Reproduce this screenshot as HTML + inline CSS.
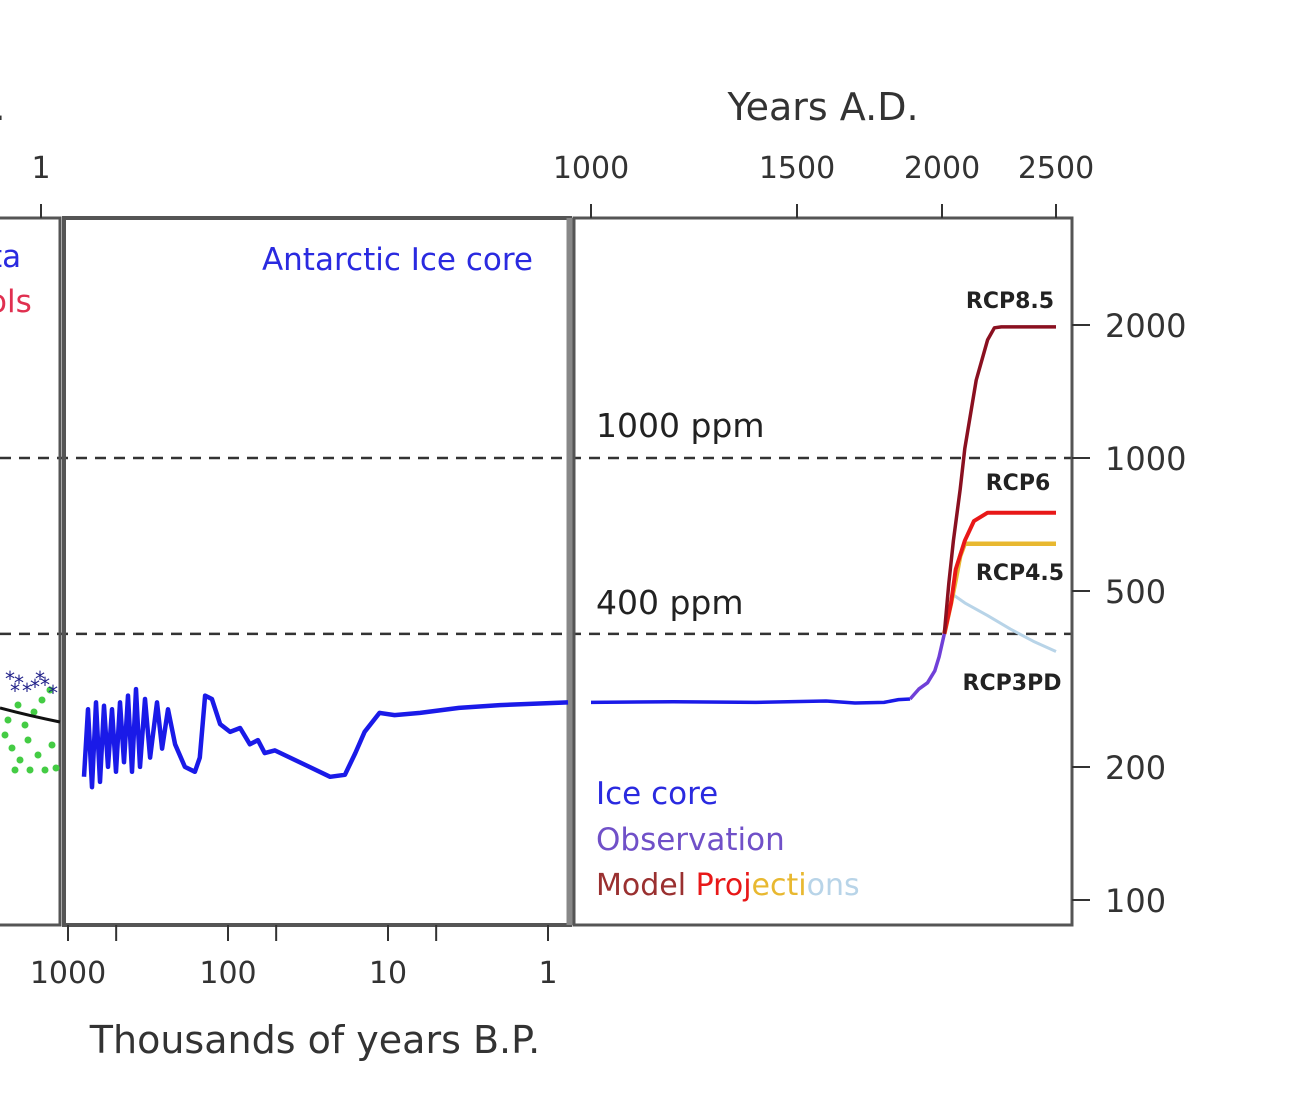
<!DOCTYPE html>
<html><head><meta charset="utf-8"><style>
body{margin:0;background:#fff}
svg text{font-family:"DejaVu Sans","Liberation Sans",sans-serif}
</style></head><body>
<svg id="c" width="1290" height="1100" viewBox="0 0 1290 1100" xmlns="http://www.w3.org/2000/svg">
<rect width="1290" height="1100" fill="#fff"/>
<g id="g"></g>
</svg>
<script>
// Middle panel: Antarctic ice core (kyr BP, ppm)
const coreKyr=[794,750,708,668,631,596,562,531,501,473,447,422,398,376,355,330,307,278,258,237,214,186,161,150,139,126,112,97,84,73,65,59,51,41,31,23,18.6,16,14,11.3,9.1,6.3,3.6,2,0.75];
const corePpm=[190,270,180,280,185,275,200,270,195,280,205,290,195,300,200,285,210,280,220,270,225,200,195,210,290,285,250,240,245,225,230,215,218,210,200,190,192,215,240,265,262,265,272,276,280];
// Right panel: historical (year AD, ppm)
const histYear=[1000,1200,1400,1600,1700,1800,1850,1890,1920,1950,1975,1990,2010];
const histPpm=[280,281,280,282,279,280,284,285,300,310,330,355,400];
// Projections
const rcp85Year=[2010,2030,2050,2080,2100,2150,2200,2230,2260,2500];
const rcp85Ppm=[400,520,650,850,1050,1500,1850,1970,1980,1980];
const rcp6Year=[2010,2040,2060,2100,2140,2200,2500];
const rcp6Ppm=[400,470,560,650,720,752,752];
const rcp45Year=[2010,2040,2060,2080,2100,2500];
const rcp45Ppm=[400,470,530,600,640,640];
const rcp3Year=[2010,2030,2050,2100,2200,2300,2400,2500];
const rcp3Ppm=[400,450,490,470,440,410,385,365];
const yTickVals=[2000,1000,500,200,100];
const adTickVals=[1000,1500,2000,2500];
const adTickPx=[591,797,942,1056];
const bpTickVals=[1000,100,10,1];

const NS="http://www.w3.org/2000/svg";
const g=document.getElementById('g');
function el(t,a,txt){const e=document.createElementNS(NS,t);for(const k in a)e.setAttribute(k,a[k]);if(txt!==undefined)e.textContent=txt;g.appendChild(e);return e;}
function yS(v){return 900-442*Math.log10(v/100);}
function xBP(k){return 68+160*(3-Math.log10(k));}
function xAD(y){for(let i=0;i<adTickVals.length-1;i++){if(y<=adTickVals[i+1]){const t=(y-adTickVals[i])/(adTickVals[i+1]-adTickVals[i]);return adTickPx[i]+t*(adTickPx[i+1]-adTickPx[i]);}}return adTickPx[adTickPx.length-1];}
function path(xs,ys,fx,col,w,name){let d='';xs.forEach((x,i)=>{d+=(i?'L':'M')+fx(x).toFixed(1)+','+yS(ys[i]).toFixed(1);});
const p=el('path',{d:d,fill:'none',stroke:col,'stroke-width':w,'stroke-linejoin':'round'});

return p;}

[1000,400].forEach(v=>{const l=el('line',{x1:0,x2:1072,y1:yS(v),y2:yS(v),stroke:'#333','stroke-width':2.5,'stroke-dasharray':'11,8'});

});

// left partial panel
let lp=el('path',{d:'M0,218H60V925H0',fill:'none',stroke:'#555','stroke-width':3});

el('line',{x1:41,x2:41,y1:204,y2:218,stroke:'#333','stroke-width':2});
let t1=el('text',{x:41,y:178,'font-size':30,fill:'#333','text-anchor':'middle'},'1');

el('text',{x:-6,y:120,'font-size':36,fill:'#333'},'.');
let ta=el('text',{x:-10,y:267,'font-size':31,fill:'#2a2ae0'},'ta');
let to=el('text',{x:-12,y:312,'font-size':31,fill:'#e03050'},'ols');
[[5,735],[12,748],[20,760],[28,740],[38,755],[45,770],[52,745],[56,768],[15,770],[30,770],[42,700],[50,690],[8,720],[25,725],[34,712],[18,705]].forEach(p=>el('circle',{cx:p[0],cy:p[1],r:3.5,fill:'#4c4'}));
[[5,678],[14,682],[22,690],[30,686],[40,684],[48,692],[10,690],[35,678]].forEach(p=>el('text',{x:p[0],y:p[1]+8,'font-size':20,fill:'#22228a'},'*'));
el('path',{d:'M0,708 Q30,716 60,722',fill:'none',stroke:'#111','stroke-width':3});

// middle panel
let mp=el('rect',{x:64,y:218,width:506,height:707,fill:'none',stroke:'#555','stroke-width':4});

el('line',{x1:570,x2:570,y1:218,y2:925,stroke:'#888','stroke-width':7});
bpTickVals.forEach(v=>{const x=xBP(v);el('line',{x1:x,x2:x,y1:925,y2:941,stroke:'#333','stroke-width':2});
const t=el('text',{x:x,y:983,'font-size':30,fill:'#333','text-anchor':'middle'},String(v));
});
[500,50,5].forEach(v=>{const x=xBP(v);el('line',{x1:x,x2:x,y1:925,y2:941,stroke:'#333','stroke-width':2});});
let bpt=el('text',{x:315,y:1053,'font-size':38,fill:'#333','text-anchor':'middle'},'Thousands of years B.P.');

let aic=el('text',{x:533,y:270,'font-size':31,fill:'#2a2ae0','text-anchor':'end'},'Antarctic Ice core');

path(coreKyr,corePpm,xBP,'#1a1ae8',4.5,'ice-core-line');

// right panel
let rp=el('rect',{x:574,y:218,width:498,height:707,fill:'none',stroke:'#555','stroke-width':3});

adTickVals.forEach(v=>{const x=xAD(v);el('line',{x1:x,x2:x,y1:204,y2:218,stroke:'#333','stroke-width':2});
const t=el('text',{x:x,y:178,'font-size':30,fill:'#333','text-anchor':'middle'},String(v));
});
let adt=el('text',{x:823,y:120,'font-size':38,fill:'#333','text-anchor':'middle'},'Years A.D.');

yTickVals.forEach(v=>{const y=yS(v);el('line',{x1:1072,x2:1090,y1:y,y2:y,stroke:'#333','stroke-width':2});
const t=el('text',{x:1105,y:y+12,'font-size':32,fill:'#333'},String(v));
});
let p1=el('text',{x:596,y:437,'font-size':33,fill:'#222'},'1000 ppm');
let p4=el('text',{x:596,y:614,'font-size':33,fill:'#222'},'400 ppm');

path(rcp3Year,rcp3Ppm,xAD,'#b8d4e8',3,'rcp3pd-line');
path(rcp45Year,rcp45Ppm,xAD,'#e8b830',4.5,'rcp45-line');
path(rcp6Year,rcp6Ppm,xAD,'#e81818',4,'rcp6-line');
path(rcp85Year,rcp85Ppm,xAD,'#8a1020',3.5,'rcp85-line');
path(histYear.slice(0,8),histPpm.slice(0,8),xAD,'#1a1ae8',3.5,'historical-ice-core-line');
path(histYear.slice(7),histPpm.slice(7),xAD,'#7040d8',3.5,'observation-line');

[['RCP8.5',1010,308],['RCP6',1018,490],['RCP4.5',1020,580],['RCP3PD',1012,690]].forEach(r=>{
const t=el('text',{x:r[1],y:r[2],'font-size':22,fill:'#222','text-anchor':'middle','font-weight':'bold'},r[0]);
});

let l1=el('text',{x:596,y:804,'font-size':31,fill:'#2a2ae0'},'Ice core');
let l2=el('text',{x:596,y:850,'font-size':31,fill:'#7050c8'},'Observation');
const l3=el('text',{x:596,y:895,'font-size':30});

[['Model ','#9a3030'],['Proj','#e81818'],['ecti','#e8b830'],['ons','#b8d4e8']].forEach(s=>{const ts=document.createElementNS(NS,'tspan');ts.setAttribute('fill',s[1]);ts.textContent=s[0];l3.appendChild(ts);});
</script>
</body></html>
